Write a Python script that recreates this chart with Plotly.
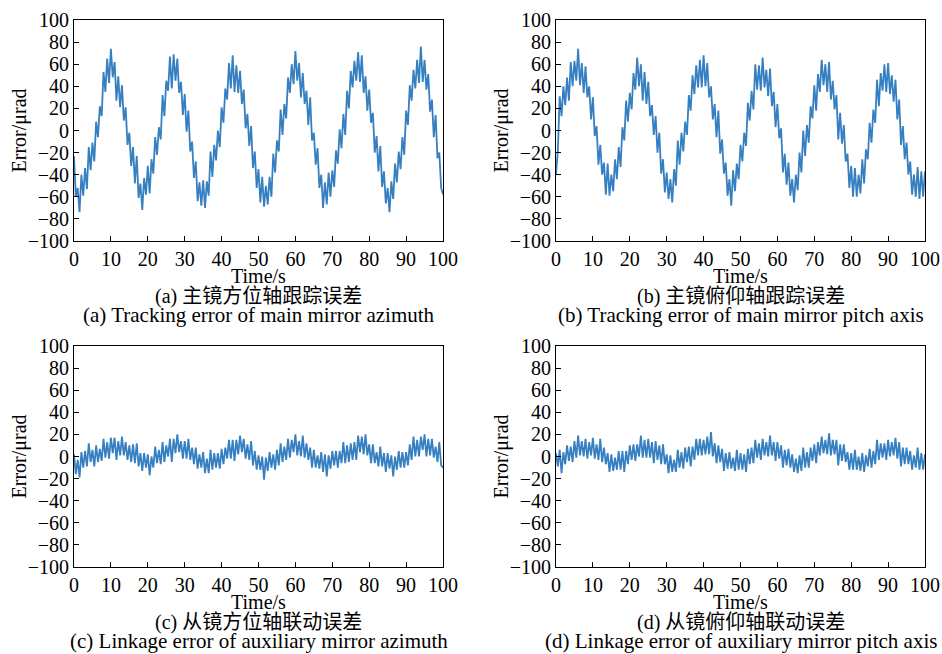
import plotly.graph_objects as go

# sample grid of the recorded errors (0.5 s step, 0..100 s)
time_s = [i / 2 for i in range(201)]

# (a) main mirror azimuth tracking error, urad
err_a = [
    -23, -60, -52, -74, -40, -59, -34, -53, -15, -36,
    -11, -28, 8, -6, 22, 13, 53, 35, 65, 43,
    74, 48, 62, 27, 49, 21, 41, 9, 21, -13,
    -2, -32, -15, -48, -23, -61, -48, -72, -43, -58,
    -32, -57, -26, -39, -6, -22, 3, -8, 32, 13,
    45, 36, 67, 38, 69, 45, 65, 34, 44, 14,
    33, -1, 18, -19, -10, -43, -28, -64, -47, -68,
    -45, -70, -46, -59, -19, -42, -13, -27, 0, -15,
    21, 7, 38, 28, 61, 38, 68, 35, 59, 34,
    54, 24, 37, 2, 15, -14, 4, -34, -19, -52,
    -35, -65, -42, -69, -50, -67, -42, -60, -21, -38,
    -9, -19, 19, -4, 24, 11, 48, 34, 60, 42,
    72, 45, 61, 30, 52, 24, 36, 5, 30, -9,
    -2, -31, -16, -52, -40, -70, -47, -67, -38, -60,
    -36, -51, -18, -30, 1, -16, 15, -4, 36, 20,
    54, 39, 63, 45, 71, 44, 68, 34, 49, 18,
    37, 7, 16, -20, -5, -37, -14, -51, -37, -66,
    -52, -74, -46, -62, -30, -47, -19, -35, -6, -22,
    18, 5, 41, 27, 55, 38, 64, 43, 76, 44,
    64, 37, 51, 17, 28, -6, 14, -25, -20, -52,
    -58,
]

# (b) main mirror pitch axis tracking error, urad
err_b = [
    -40, -18, 31, 13, 40, 23, 48, 27, 62, 40,
    63, 45, 74, 41, 61, 34, 58, 30, 40, 10,
    30, -5, 4, -31, -13, -40, -29, -58, -30, -59,
    -40, -55, -26, -44, -15, -33, 3, -9, 27, 8,
    34, 19, 52, 37, 66, 40, 60, 27, 53, 24,
    44, 13, 23, -4, 13, -20, -2, -39, -26, -56,
    -38, -62, -44, -65, -35, -50, -9, -31, -2, -19,
    8, -4, 32, 18, 50, 33, 59, 39, 64, 39,
    68, 40, 61, 30, 40, 10, 24, -6, 18, -21,
    -8, -39, -29, -59, -44, -68, -36, -55, -30, -44,
    -13, -28, -2, -14, 25, 9, 36, 19, 60, 37,
    59, 36, 66, 39, 55, 31, 56, 22, 35, 3,
    24, -7, 2, -38, -21, -49, -29, -59, -44, -65,
    -40, -54, -20, -38, 0, -23, 5, -11, 22, 11,
    41, 18, 51, 35, 64, 41, 60, 35, 62, 28,
    45, 19, 32, -8, 16, -12, 5, -28, -21, -52,
    -32, -60, -34, -60, -40, -57, -26, -48, -17, -26,
    7, -11, 19, 7, 46, 22, 52, 36, 60, 35,
    61, 33, 50, 26, 46, 10, 28, -13, 4, -26,
    -11, -40, -28, -58, -40, -60, -33, -62, -37, -60,
    -37,
]

# (c) auxiliary mirror azimuth linkage error, urad
err_c = [
    2, -16, -3, -19, 4, -10, 5, -9, 12, -5,
    6, -9, 10, -5, 7, -4, 16, -1, 13, -2,
    17, 3, 17, -3, 14, 1, 18, 1, 13, -3,
    10, -5, 11, -6, 12, -9, 3, -13, 3, -10,
    2, -17, 0, -10, 9, -6, 6, -7, 13, -5,
    10, 0, 16, -5, 16, 3, 20, 4, 14, -2,
    14, -2, 16, -3, 8, -7, 8, -11, 2, -10,
    4, -15, -2, -15, 6, -12, 3, -10, 3, -11,
    7, -7, 8, -2, 15, -2, 15, -4, 15, 2,
    19, 4, 16, -2, 11, -3, 14, -8, 5, -12,
    1, -12, 0, -21, -1, -13, 4, -10, 2, -12,
    6, -8, 12, -5, 9, -3, 16, -1, 15, 4,
    20, 1, 14, 0, 19, -1, 12, -3, 8, -10,
    6, -10, 1, -11, 4, -14, 2, -18, 1, -11,
    5, -8, 5, -10, 5, -6, 13, -6, 10, -5,
    12, -3, 13, -3, 19, 4, 18, 2, 20, 1,
    11, -6, 11, -6, 4, -9, 9, -9, 3, -14,
    3, -11, 1, -18, 0, -12, 5, -10, 4, -10,
    4, -8, 11, -3, 18, 0, 15, 0, 18, 6,
    20, 0, 16, 1, 16, -1, 9, -5, 13, -8,
    -10,
]

# (d) auxiliary mirror pitch axis linkage error, urad
err_d = [
    3, -9, 6, -15, 4, -7, 10, -4, 9, -5,
    14, -1, 19, 1, 14, 0, 16, -2, 13, 1,
    17, -2, 11, -3, 16, -5, 8, -7, 3, -14,
    2, -13, -1, -12, 5, -12, 5, -14, 5, -7,
    10, -3, 11, -4, 11, 0, 19, -1, 15, -1,
    16, -1, 13, -6, 14, -3, 10, -7, 11, -7,
    2, -15, 1, -14, -3, -14, 6, -10, 4, -11,
    8, -5, 9, -9, 9, -3, 16, 1, 16, 1,
    15, 2, 18, 2, 22, 0, 12, -6, 10, -5,
    7, -13, 3, -11, 4, -11, -1, -13, 6, -12,
    3, -12, 2, -14, 7, -7, 8, -6, 15, -1,
    12, -3, 16, 1, 13, 0, 19, 1, 13, -4,
    13, -2, 10, -10, 6, -8, 7, -10, 2, -14,
    -2, -15, 1, -13, 8, -10, 4, -10, 8, -4,
    11, -6, 13, 1, 18, 3, 15, 2, 21, 1,
    15, 2, 15, -8, 11, -4, 11, -5, 4, -12,
    3, -12, 6, -12, 0, -13, 3, -14, 1, -9,
    7, -10, 5, -7, 15, -3, 12, -1, 12, -3,
    15, 0, 13, 1, 17, -2, 13, -9, 8, -7,
    8, -7, 5, -12, 1, -10, 8, -12, 3, -12,
    2,
]

y_ticks = [-100, -80, -60, -40, -20, 0, 20, 40, 60, 80, 100]
x_ticks = [0, 10, 20, 30, 40, 50, 60, 70, 80, 90, 100]

captions_cn = [
    "(a) 主镜方位轴跟踪误差",
    "(b) 主镜俯仰轴跟踪误差",
    "(c) 从镜方位轴联动误差",
    "(d) 从镜俯仰轴联动误差",
]
captions_en = [
    "(a) Tracking error of main mirror azimuth",
    "(b) Tracking error of main mirror pitch axis",
    "(c) Linkage error of auxiliary mirror azimuth",
    "(d) Linkage error of auxiliary mirror pitch axis",
]

W, H = 942, 654
SERIF = "Liberation Serif, Times New Roman, Noto Sans CJK SC, serif"
LINE_COLOR = "#3680c2"

# plot-area boxes in pixels: (left, right, top, bottom)
boxes = [
    (74, 443, 20, 241),
    (556, 925, 20, 241),
    (74, 443, 346, 567),
    (556, 925, 346, 567),
]

fig = go.Figure()
annotations = []

for k, (errs, cn, en, box) in enumerate(
    zip([err_a, err_b, err_c, err_d], captions_cn, captions_en, boxes)
):
    n = k + 1
    xa = "x" if n == 1 else f"x{n}"
    ya = "y" if n == 1 else f"y{n}"
    left, right, top, bottom = box

    fig.add_trace(
        go.Scatter(
            x=time_s,
            y=errs,
            mode="lines",
            line={"color": LINE_COLOR, "width": 1.8, "simplify": False},
            xaxis=xa,
            yaxis=ya,
            showlegend=False,
        )
    )

    axis_common = dict(
        showline=True,
        linecolor="black",
        linewidth=1,
        mirror=True,
        ticks="inside",
        ticklen=5,
        tickwidth=1,
        tickcolor="black",
        showgrid=False,
        zeroline=False,
        automargin=False,
        tickfont={"family": SERIF, "size": 20, "color": "black"},
    )
    fig.layout[f"xaxis{n if n > 1 else ''}"] = dict(
        axis_common,
        domain=[left / W, right / W],
        range=[0, 100],
        tickvals=x_ticks,
        anchor=ya,
    )
    fig.layout[f"yaxis{n if n > 1 else ''}"] = dict(
        axis_common,
        domain=[1 - bottom / H, 1 - top / H],
        range=[-100, 100],
        tickvals=y_ticks,
        anchor=xa,
    )

    cx = (left + right) / 2 / W
    annotations += [
        dict(text="Time/s", x=cx, y=1 - (bottom + 35) / H, font_size=20),
        dict(text=cn, x=cx, y=1 - (bottom + 55) / H, font_size=20),
        dict(text=en, x=cx, y=1 - (bottom + 74) / H, font_size=21),
        dict(
            text="Error/μrad",
            x=(left - 55) / W,
            y=1 - (top + bottom) / 2 / H,
            textangle=-90,
            font_size=20,
        ),
    ]
    for a in annotations[-4:]:
        a.update(
            xref="paper",
            yref="paper",
            showarrow=False,
            xanchor="center",
            yanchor="middle",
            font={"family": SERIF, "size": a["font_size"], "color": "black"},
        )
        del a["font_size"]

fig.update_layout(
    width=W,
    height=H,
    margin={"l": 0, "r": 0, "t": 0, "b": 0},
    paper_bgcolor="white",
    plot_bgcolor="white",
    annotations=annotations,
    showlegend=False,
)

# page body has a default 8px margin; drop it so the figure fills the window
fig.write_html(
    "out.html",
    config={"displayModeBar": False},
    post_script="document.body.style.margin='0';document.body.style.overflow='hidden';",
)
